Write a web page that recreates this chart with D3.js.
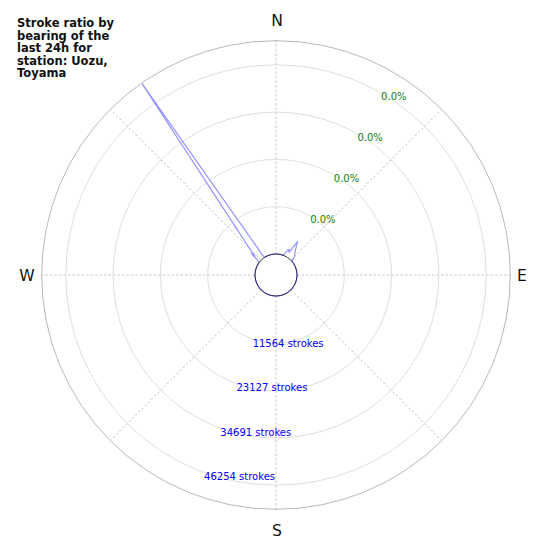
<!DOCTYPE html>
<html>
<head>
<meta charset="utf-8">
<script src="https://cdn.jsdelivr.net/npm/d3@7"></script>
<style>
  html, body { margin: 0; padding: 0; background: #fff; }
  svg { display: block; font-family: "DejaVu Sans", sans-serif; }
</style>
</head>
<body>
<svg id="chart" width="550" height="550"></svg>
<script>
// ---- data ----
const titleLines = ["Stroke ratio by", "bearing of the", "last 24h for", "station: Uozu,", "Toyama"];
const cardinalLabels = ["N", "E", "S", "W"];
const cardinalBearings = [0, 90, 180, 270];
const gridBearings = [0, 45, 90, 135, 180, 225, 270, 315];
const tickValues = [11564, 23127, 34691, 46254];
const tickStrokeLabels = ["11564 strokes", "23127 strokes", "34691 strokes", "46254 strokes"];
const tickPercentLabels = ["0.0%", "0.0%", "0.0%", "0.0%"];
const rMaxValue = 52145;
// strokes per 1-degree bearing bin, 0..359
const strokes = [
  0, 0, 0, 0, 0, 0, 0, 0, 0, 0,                                   // 0-9
  0, 0, 0, 0, 0, 0, 0, 0, 0, 0,                                   // 10-19
  0, 150, 400, 700, 1000, 1400, 1700, 1900, 1700, 1400,           // 20-29
  1300, 2200, 3400, 4650, 3900, 3500, 3200, 2900, 2600, 2300,     // 30-39
  2100, 1900, 1700, 1600, 1500, 1200, 900, 600, 350, 150,         // 40-49
  0, 0, 0, 0, 0, 0, 0, 0, 0, 0,                                   // 50-59
  0, 0, 0, 0, 0, 0, 0, 0, 0, 0,                                   // 60-69
  0, 0, 0, 0, 0, 0, 0, 0, 0, 0,                                   // 70-79
  0, 0, 0, 0, 0, 0, 0, 0, 0, 0,                                   // 80-89
  0, 0, 0, 0, 0, 0, 0, 0, 0, 0,                                   // 90-99
  0, 0, 0, 0, 0, 0, 0, 0, 0, 0,                                   // 100-109
  0, 0, 0, 0, 0, 0, 0, 0, 0, 0,                                   // 110-119
  0, 0, 0, 0, 0, 0, 0, 0, 0, 0,                                   // 120-129
  0, 0, 0, 0, 0, 0, 0, 0, 0, 0,                                   // 130-139
  0, 0, 0, 0, 0, 0, 0, 0, 0, 0,                                   // 140-149
  0, 0, 0, 0, 0, 0, 0, 0, 0, 0,                                   // 150-159
  0, 0, 0, 0, 0, 0, 0, 0, 0, 0,                                   // 160-169
  0, 0, 0, 0, 0, 0, 0, 0, 0, 0,                                   // 170-179
  0, 0, 0, 0, 0, 0, 0, 0, 0, 0,                                   // 180-189
  0, 0, 0, 0, 0, 0, 0, 0, 0, 0,                                   // 190-199
  0, 0, 0, 0, 0, 0, 0, 0, 0, 0,                                   // 200-209
  0, 0, 0, 0, 0, 0, 0, 0, 0, 0,                                   // 210-219
  0, 0, 0, 0, 0, 0, 0, 0, 0, 0,                                   // 220-229
  0, 0, 0, 0, 0, 0, 0, 0, 0, 0,                                   // 230-239
  0, 0, 0, 0, 0, 0, 0, 0, 0, 0,                                   // 240-249
  0, 0, 0, 0, 0, 0, 0, 0, 0, 0,                                   // 250-259
  0, 0, 0, 0, 0, 0, 0, 0, 0, 0,                                   // 260-269
  0, 0, 0, 0, 0, 0, 0, 0, 0, 0,                                   // 270-279
  0, 0, 0, 0, 0, 0, 0, 0, 0, 0,                                   // 280-289
  0, 0, 0, 0, 0, 0, 0, 0, 0, 0,                                   // 290-299
  0, 0, 0, 0, 0, 0, 0, 0, 300, 800,                               // 300-309
  1500, 2900, 1700, 2690, 3300, 3990, 4820, 5820, 7040, 8580,     // 310-319
  10540, 13180, 16940, 22540, 32180, 51960, 730, 0, 0, 0,         // 320-329
  0, 0, 0, 0, 0, 0, 0, 0, 0, 0,                                   // 330-339
  0, 0, 0, 0, 0, 0, 0, 0, 0, 0,                                   // 340-349
  0, 0, 0, 0, 0, 0, 0, 0, 0, 0                                    // 350-359
];
const bearings = d3.range(0, 360);

// ---- layout ----
const cx = 276, cy = 275;
const innerR = 21, outerR = 234.3;
const svg = d3.select("#chart");
const g = svg.append("g").attr("transform", `translate(${cx},${cy})`);

const angle = d3.scaleLinear().domain([0, 360]).range([0, 2 * Math.PI]);
const radius = d3.scaleLinear().domain([0, rMaxValue]).range([innerR, outerR]);
const pt = (b, r) => [r * Math.sin(angle(b)), -r * Math.cos(angle(b))];

// radial (bearing) grid lines
g.selectAll("line.tgrid").data(gridBearings).join("line")
  .attr("class", "tgrid")
  .attr("x1", d => pt(d, innerR)[0]).attr("y1", d => pt(d, innerR)[1])
  .attr("x2", d => pt(d, outerR)[0]).attr("y2", d => pt(d, outerR)[1])
  .attr("stroke", "#b8b8b8").attr("stroke-width", 0.8)
  .attr("stroke-dasharray", "2.5,2");

// ring grid
g.selectAll("circle.rgrid").data(tickValues).join("circle")
  .attr("class", "rgrid")
  .attr("r", d => radius(d))
  .attr("fill", "none").attr("stroke", "#d6d6d6").attr("stroke-width", 0.8);

// outer spine
g.append("circle").attr("r", outerR)
  .attr("fill", "none").attr("stroke", "#b0b0b0").attr("stroke-width", 0.9);

// data line
const line = d3.lineRadial()
  .angle((d, i) => angle(bearings[i]))
  .radius(d => radius(d))
  .curve(d3.curveLinearClosed);

g.append("path").datum(strokes)
  .attr("d", line)
  .attr("fill", "none")
  .attr("stroke", "#9393ff")
  .attr("stroke-width", 1.2)
  .attr("stroke-linejoin", "miter");

// inner spine (drawn above the line)
g.append("circle").attr("r", innerR)
  .attr("fill", "none").attr("stroke", "#1a1a40").attr("stroke-width", 0.9);

// percentage labels (green) along bearing 30
g.selectAll("text.pct").data(tickValues).join("text")
  .attr("class", "pct")
  .attr("x", d => pt(30, radius(d))[0])
  .attr("y", d => pt(30, radius(d))[1] + 3.6)
  .attr("dominant-baseline", "central")
  .attr("text-anchor", "start")
  .attr("font-size", 10)
  .attr("fill", "#108010")
  .text((d, i) => tickPercentLabels[i]);

// stroke count labels (blue) along bearing 200
g.selectAll("text.cnt").data(tickValues).join("text")
  .attr("class", "cnt")
  .attr("x", d => pt(200, radius(d))[0])
  .attr("y", d => pt(200, radius(d))[1] + 4)
  .attr("dominant-baseline", "central")
  .attr("text-anchor", "start")
  .attr("font-size", 10)
  .attr("fill", "#0000ff")
  .text((d, i) => tickStrokeLabels[i]);

// cardinal labels
const cardinalR = [255, 246, 255, 249];
g.selectAll("text.card").data(cardinalLabels).join("text")
  .attr("class", "card")
  .attr("x", (d, i) => pt(cardinalBearings[i], cardinalR[i])[0] + (i % 2 === 0 ? 1 : 0))
  .attr("y", (d, i) => pt(cardinalBearings[i], cardinalR[i])[1] + 0.5)
  .attr("text-anchor", "middle")
  .attr("dominant-baseline", "central")
  .attr("font-size", 15.6)
  .attr("fill", "#111")
  .text(d => d);

// title
svg.append("text")
  .attr("x", 17).attr("y", 27)
  .attr("font-size", 11.5).attr("font-weight", "bold").attr("fill", "#111")
  .selectAll("tspan").data(titleLines).join("tspan")
  .attr("x", 17)
  .attr("dy", (d, i) => i === 0 ? 0 : 12.5)
  .text(d => d);
</script>
</body>
</html>
